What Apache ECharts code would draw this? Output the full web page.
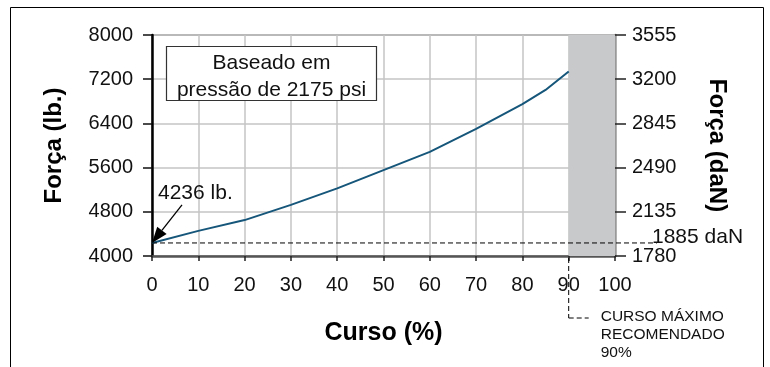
<!DOCTYPE html>
<html><head><meta charset="utf-8">
<script src="https://cdn.jsdelivr.net/npm/echarts@6/dist/echarts.min.js"></script>
<style>html,body{margin:0;padding:0;background:#fff}#c{width:770px;height:367px}</style>
</head><body><div id="c"></div>
<script>
const cursoPct = [0, 10, 20, 30, 40, 50, 60, 70, 80, 85, 90];
const forcaLb = [4236, 4455, 4650, 4925, 5225, 5555, 5885, 6300, 6750, 7005, 7340];
const leftTickLabels = ['4000', '4800', '5600', '6400', '7200', '8000'];
const rightTickLabels = ['1780', '2135', '2490', '2845', '3200', '3555'];
const maxCurso = 90;
const baseLb = 4236;
const baseLbText = '4236 lb.';
const baseDaNText = '1885 daN';
const boxText = 'Baseado em\npressão de 2175 psi';
const noteText = 'CURSO MÁXIMO\nRECOMENDADO\n90%';

const FONT = "'Liberation Sans', Arial, Helvetica, sans-serif";
const chart = echarts.init(document.getElementById('c'), null, {renderer: 'canvas'});
const idx = v => Math.round((v - 4000) / 800);

chart.setOption({
  animation: false,
  textStyle: {fontFamily: FONT},
  grid: {left: 152, right: 155, top: 35, bottom: 111, show: true, borderColor: '#999', borderWidth: 2},
  xAxis: {
    type: 'value', min: 0, max: 100, interval: 10,
    name: 'Curso (%)', nameLocation: 'middle', nameGap: 65,
    nameTextStyle: {fontSize: 25, fontWeight: 'bold', color: '#000', fontFamily: FONT},
    axisLine: {show: true, lineStyle: {color: '#555', width: 2.5}},
    axisTick: {show: true, length: 5, lineStyle: {color: '#222', width: 1.5}},
    axisLabel: {margin: 19, fontSize: 20, color: '#111', fontFamily: FONT},
    splitLine: {show: true, lineStyle: {color: '#c4c4c4', width: 1.5}}
  },
  yAxis: [{
    type: 'value', min: 4000, max: 8000, interval: 800, position: 'left',
    name: 'Força (lb.)', nameLocation: 'middle', nameGap: 86,
    nameTextStyle: {fontSize: 24, fontWeight: 'bold', color: '#000', fontFamily: FONT},
    axisLine: {show: true, lineStyle: {color: '#000', width: 2.5}},
    axisTick: {show: true, length: 9, lineStyle: {color: '#111', width: 1.5}},
    axisLabel: {margin: 19, fontSize: 20, color: '#111', fontFamily: FONT,
      formatter: v => leftTickLabels[idx(v)]},
    splitLine: {show: true, lineStyle: {color: '#c4c4c4', width: 1.5}}
  }, {
    type: 'value', min: 4000, max: 8000, interval: 800, position: 'right',
    name: 'Força (daN)', nameLocation: 'middle', nameGap: 90, nameRotate: -90,
    nameTextStyle: {fontSize: 24, fontWeight: 'bold', color: '#000', fontFamily: FONT},
    axisLine: {show: true, lineStyle: {color: '#999', width: 2.5}},
    axisTick: {show: true, length: 11, lineStyle: {color: '#222', width: 1.5}},
    axisLabel: {margin: 17, fontSize: 20, color: '#111', fontFamily: FONT,
      formatter: v => rightTickLabels[idx(v)]},
    splitLine: {show: false}
  }],
  series: [{
    type: 'line',
    data: cursoPct.map((x, i) => [x, forcaLb[i]]),
    showSymbol: false, symbol: 'none',
    lineStyle: {color: '#15567a', width: 2},
    z: 5,
    markArea: {
      silent: true,
      itemStyle: {color: '#c8c9cb', opacity: 1},
      data: [[{xAxis: maxCurso}, {xAxis: 100}]]
    }
  }]
});

function drawAnnotations() {
  const p0 = chart.convertToPixel({xAxisIndex: 0, yAxisIndex: 0}, [0, baseLb]);
  const pMax = chart.convertToPixel({xAxisIndex: 0, yAxisIndex: 0}, [maxCurso, 4000]);
  const pEnd = chart.convertToPixel({xAxisIndex: 0, yAxisIndex: 0}, [100, 8000]);
  const dash = [5, 3];
  const tail = [p0[0] + 30, p0[1] - 38];
  const ang = Math.atan2(p0[1] - tail[1], p0[0] - tail[0]);
  const hl = 16, hw = 6;
  const bx = p0[0] - hl * Math.cos(ang), by = p0[1] - hl * Math.sin(ang);
  const nx = -Math.sin(ang) * hw, ny = Math.cos(ang) * hw;
  chart.setOption({
    graphic: [
      {type: 'rect', silent: true, z: 100, shape: {x: 10.5, y: 7.5, width: 753, height: 420},
        style: {fill: 'none', stroke: '#000', lineWidth: 1}},
      {type: 'line', silent: true, z: 100, shape: {x1: p0[0], y1: p0[1], x2: pEnd[0] + 42, y2: p0[1]},
        style: {stroke: '#000', lineWidth: 1, lineDash: dash}},
      {type: 'line', silent: true, z: 100, shape: {x1: pMax[0], y1: pMax[1] + 2, x2: pMax[0], y2: pMax[1] + 62},
        style: {stroke: '#000', lineWidth: 1, lineDash: dash}},
      {type: 'line', silent: true, z: 100, shape: {x1: pMax[0], y1: pMax[1] + 62, x2: pMax[0] + 20, y2: pMax[1] + 62},
        style: {stroke: '#000', lineWidth: 1, lineDash: dash}},
      {type: 'text', silent: true, z: 100, x: pMax[0] + 32, y: pMax[1] + 52,
        style: {text: noteText, fontSize: 15.5, lineHeight: 18, fill: '#111', font: '15.5px ' + FONT, textVerticalAlign: 'top'}},
      {type: 'text', silent: true, z: 100, x: pEnd[0] + 37, y: p0[1] - 6,
        style: {text: baseDaNText, fill: '#111', font: '21px ' + FONT, textVerticalAlign: 'middle'}},
      {type: 'text', silent: true, z: 100, x: p0[0] + 6, y: p0[1] - 50,
        style: {text: baseLbText, fill: '#111', font: '21px ' + FONT, textVerticalAlign: 'middle'}},
      {type: 'line', silent: true, z: 100, shape: {x1: tail[0], y1: tail[1], x2: bx, y2: by},
        style: {stroke: '#000', lineWidth: 1.3}},
      {type: 'polygon', silent: true, z: 100, shape: {points: [[p0[0], p0[1]], [bx + nx, by + ny], [bx - nx, by - ny]]},
        style: {fill: '#000'}},
      {type: 'rect', silent: true, z: 100, shape: {x: 166.5, y: 46.5, width: 210, height: 54},
        style: {fill: '#fff', stroke: '#333', lineWidth: 1.2}},
      {type: 'text', silent: true, z: 101, x: 271.5, y: 76.5,
        style: {text: boxText, fill: '#111', font: '21px ' + FONT, lineHeight: 26.5, textAlign: 'center', textVerticalAlign: 'middle'}}
    ]
  });
}
drawAnnotations();
</script>
</body></html>
